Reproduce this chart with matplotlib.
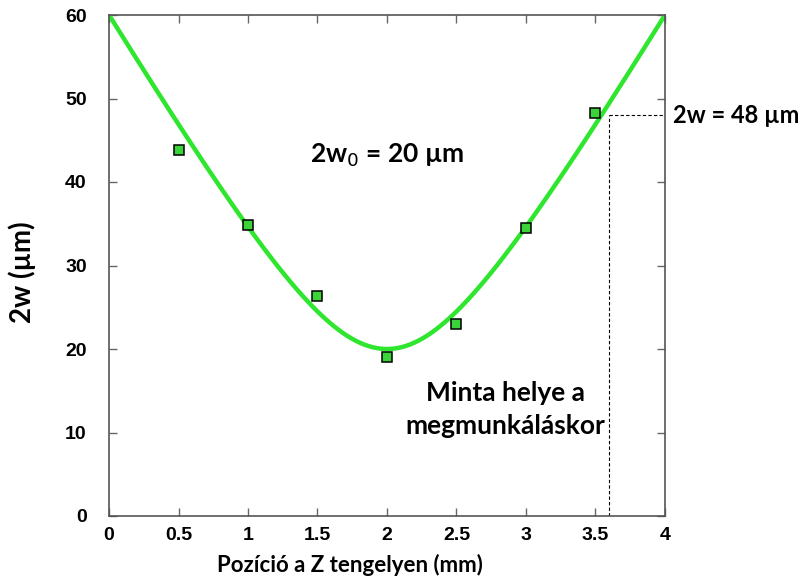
import numpy as np
import matplotlib
matplotlib.use("Agg")
import matplotlib.pyplot as plt

# measured points
z_meas = [0.5, 1.0, 1.5, 2.0, 2.5, 3.0, 3.5]
w_meas = [43.8, 34.8, 26.4, 19.0, 23.0, 34.5, 48.3]

# gaussian beam fit parameters
w0_fit = 20.0     # 2w0 in um
z0_fit = 2.0      # waist position, mm
zr_fit = 0.707    # rayleigh length, mm

# sample position marker
z_sample = 3.6
w_sample = 48

x_ticks = [0, 0.5, 1, 1.5, 2, 2.5, 3, 3.5, 4]
x_ticklabels = ["0", "0.5", "1", "1.5", "2", "2.5", "3", "3.5", "4"]
y_ticks = [0, 10, 20, 30, 40, 50, 60]

label_font = ["Lato", "DejaVu Sans"]
tick_font = ["Liberation Sans Narrow", "Liberation Sans", "DejaVu Sans"]

fig = plt.figure(figsize=(8.11, 5.81), dpi=100)
ax = fig.add_axes([109 / 811, 1 - 516 / 581, (665 - 109) / 811, (516 - 15) / 581])

z = np.linspace(0, 4, 400)
w = w0_fit * np.sqrt(1 + ((z - z0_fit) / zr_fit) ** 2)
ax.plot(z, w, color="#2ee62e", lw=3.2, zorder=2, solid_capstyle="round")

ax.plot(z_meas, w_meas, "s", ms=6.5, mfc="#3ad43a", mec="black", mew=1.1, zorder=3)

# dashed guides
ax.plot([z_sample, z_sample], [0, w_sample], ls=(0, (3, 2)), color="black", lw=0.8, zorder=1)
ax.plot([z_sample, 4], [w_sample, w_sample], ls=(0, (3, 2)), color="black", lw=0.8, zorder=1)

ax.set_xlim(0, 4)
ax.set_ylim(0, 60)
ax.set_xticks(x_ticks)
ax.set_xticklabels(x_ticklabels)
ax.set_yticks(y_ticks)
ax.tick_params(direction="in", top=True, right=True, length=6, width=1, color="#666666")
ax.tick_params(axis="x", pad=8)
ax.tick_params(axis="y", pad=16)
for lab in ax.get_xticklabels() + ax.get_yticklabels():
    lab.set_family(tick_font)
    lab.set_fontweight("bold")
    lab.set_fontsize(14)
for sp in ax.spines.values():
    sp.set_color("#555555")
    sp.set_linewidth(1.2)

ax.set_xlabel("Pozíció a Z tengelyen (mm)", family=label_font, fontweight="bold",
              fontsize=16)
ax.xaxis.set_label_coords((350 - 109) / 556, -0.075)
ax.set_ylabel("2w (µm)", family=label_font, fontweight="bold", fontsize=20)
ax.yaxis.set_label_coords((36 - 109) / 556, 0.487)

ax.text(2.0, 43.2, "2w$_0$ = 20 µm", family=label_font, fontweight="bold", fontsize=19,
        ha="center", va="center")
ax.text(4.055, w_sample, "2w = 48 µm", family=label_font, fontweight="bold", fontsize=17,
        ha="left", va="center", clip_on=False)
ax.text(2.85, 12.8, "Minta helye a\nmegmunkáláskor", family=label_font, fontweight="bold",
        fontsize=19, ha="center", va="center", linespacing=1.45)

fig.savefig("out.png", dpi=100)
